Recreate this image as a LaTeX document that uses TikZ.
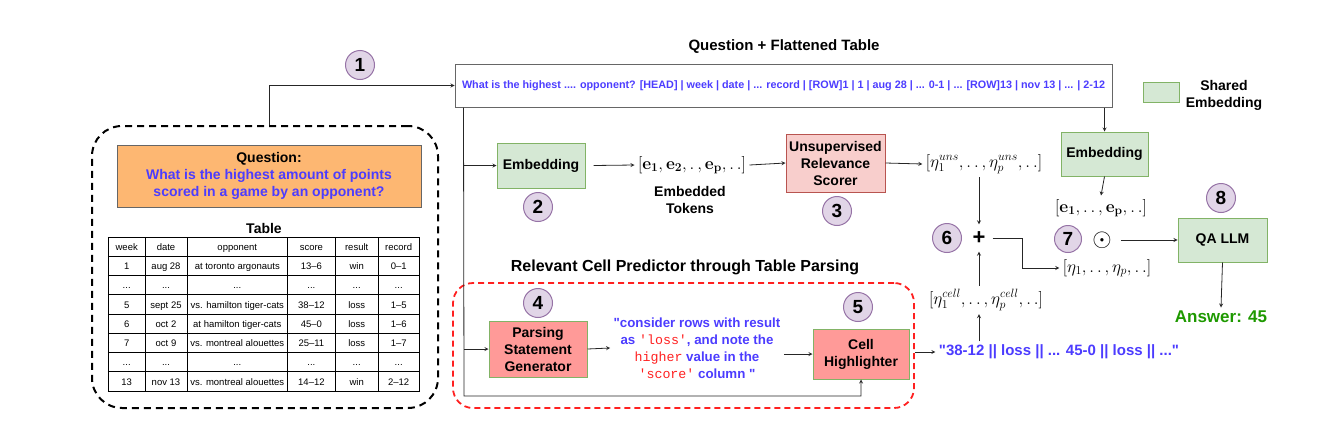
\documentclass[tikz,border=0pt]{standalone}
\usepackage[no-math]{fontspec}
\setmainfont{Liberation Sans}[Ligatures=TeXOff]
\setmonofont{Liberation Mono}
\usepackage{amsmath}
\usepackage{array}
\usepackage{tikz}

\definecolor{embfill}{HTML}{D5E8D4}
\definecolor{embedge}{HTML}{82B366}
\definecolor{scorefill}{HTML}{F8CECC}
\definecolor{scoreedge}{HTML}{B85450}
\definecolor{cellfill}{HTML}{FF9A98}
\definecolor{numfill}{HTML}{E1D5E7}
\definecolor{numedge}{HTML}{9673A6}
\definecolor{qfill}{HTML}{FDB772}
\definecolor{qblue}{HTML}{4C3CFF}
\definecolor{mred}{HTML}{FF2020}
\definecolor{ansgreen}{HTML}{1E9900}

\newcolumntype{C}[1]{>{\centering\arraybackslash}p{#1}}
\newcommand{\mono}[1]{\textcolor{mred}{\normalfont\ttfamily #1}}

\begin{document}
\begin{tikzpicture}
[x=1pt,y=-1pt,>=stealth,
 box/.style = {draw, line width=1pt, align=center, inner sep=0pt, font=\bfseries\fontsize{14}{17}\selectfont},
 embbox/.style = {box, draw=embedge, fill=embfill},
 scorebox/.style = {box, draw=scoreedge, fill=scorefill},
 cellbox/.style = {box, draw=embedge, fill=cellfill},
 num/.style = {circle, draw=numedge, fill=numfill, line width=1pt, minimum size=29pt, inner sep=0pt, font=\bfseries\fontsize{19}{19}\selectfont},
 txt/.style = {align=center, font=\bfseries\fontsize{14}{17}\selectfont},
 vec/.style = {font=\fontsize{16.5}{19}\selectfont},
 link/.style = {->, line width=0.8pt, draw=black!85},
]

\useasboundingbox (0,0) rectangle (1326,434);

% question and table
\node (inbox) at (265,267)[draw, line width=2pt, dash pattern=on 7pt off 5pt, rounded corners=30pt, minimum width=346pt, minimum height=282pt] {};
\node (question) at (269,176)[box, draw=black!60, fill=qfill, minimum width=304pt, minimum height=62pt] {Question:\\\color{qblue}What is the highest amount of points\\\color{qblue}scored in a game by an opponent?};
\node (tbltitle) at (264,228)[txt] {Table};
\node (tbl) at (263.7,314)[inner sep=0pt, font=\fontsize{9.5}{11.4}\selectfont] {%
\setlength{\tabcolsep}{2pt}\setlength{\arrayrulewidth}{0.8pt}\renewcommand{\arraystretch}{1.62}%
\begin{tabular}{|C{32pt}|C{37pt}|C{96pt}|C{42.6pt}|C{38.4pt}|C{36pt}|}
\hline
week & date & opponent & score & result & record \\ \hline
1 & aug 28 & at toronto argonauts & 13–6 & win & 0–1 \\ \hline
... & ... & ... & ... & ... & ... \\ \hline
5 & sept 25 & vs. hamilton tiger-cats & 38–12 & loss & 1–5 \\ \hline
6 & oct 2 & at hamilton tiger-cats & 45–0 & loss & 1–6 \\ \hline
7 & oct 9 & vs. montreal alouettes & 25–11 & loss & 1–7 \\ \hline
... & ... & ... & ... & ... & ... \\ \hline
13 & nov 13 & vs. montreal alouettes & 14–12 & win & 2–12 \\ \hline
\end{tabular}};

% flattened input
\node (n1) at (360,65)[num] {1};
\node (flattitle) at (784,47)[txt, font=\bfseries\fontsize{15}{17}\selectfont] {Question + Flattened Table};
\node (flat) at (783.5,85.5)[box, draw=black!60, minimum width=657pt, minimum height=43pt, text=qblue, font=\bfseries\fontsize{10.8}{12}\selectfont] {What is the highest .... opponent? [HEAD] | week | date | ... record | [ROW]1 | 1 | aug 28 | ... 0-1 | ... [ROW]13 | nov 13 | ... | 2-12};
\draw[link] ([xshift=4pt]inbox.north) |- (flat.west);

% unsupervised branch
\node (emb1) at (541,165.5)[embbox, minimum width=88pt, minimum height=45pt] {Embedding};
\node (n2) at (538,207)[num] {2};
\node (etok) at (692,165)[vec] {$[\mathbf{e_1},\mathbf{e_2},.\,,\mathbf{e_p},.\,.]$};
\node (etoklbl) at (690,200)[txt] {Embedded\\Tokens};
\node (urs) at (835.5,163)[scorebox, minimum width=99pt, minimum height=58pt] {Unsupervised\\Relevance\\Scorer};
\node (n3) at (837,211)[num] {3};
\node (etauns) at (984,164)[vec] {$[\eta_1^{uns},.\,.\,,\eta_p^{uns},.\,.]$};

% table parsing branch
\node (rcp) at (683.5,345.5)[draw=mred, line width=1.8pt, dash pattern=on 6pt off 4pt, rounded corners=20pt, minimum width=461pt, minimum height=125pt] {};
\node (rcptitle) at (685,267)[txt, font=\bfseries\fontsize{16}{18}\selectfont] {Relevant Cell Predictor through Table Parsing};
\node (psg) at (538,349)[cellbox, minimum width=98pt, minimum height=56pt] {Parsing\\Statement\\Generator};
\node (n4) at (538,303)[num] {4};
\node (stmt) at (697,348)[txt, text=qblue, font=\bfseries\fontsize{13.3}{17}\selectfont] {"consider rows with result\\as \mono{'loss'}, and note the\\\mono{higher} value in the\\\mono{'score'} column "};
\node (cell) at (861,354)[cellbox, minimum width=96pt, minimum height=50pt] {Cell\\Highlighter};
\node (n5) at (858,307)[num] {5};
\node (ans38) at (1059,352)[txt, text=qblue, font=\bfseries\fontsize{15}{18}\selectfont] {"38-12 || loss || ... 45-0 || loss || ..."};
\node (etacell) at (986,300)[vec] {$[\eta_1^{cell},.\,.\,,\eta_p^{cell},.\,.]$};

% combination
\node (plus) at (979,238)[inner sep=7pt, font=\bfseries\fontsize{22}{22}\selectfont] {+};
\node (n6) at (947,238)[num] {6};
\node (eta) at (1107,268)[vec] {$[\eta_1,.\,.\,,\eta_p,.\,.]$};
\node (emb2) at (1104.5,154)[embbox, minimum width=87pt, minimum height=44pt] {Embedding};
\node (evec) at (1101,208)[vec] {$[\mathbf{e_1},.\,.\,,\mathbf{e_p},.\,.]$};
\node (n7) at (1068,239)[num, minimum size=27pt] {7};
\node (odot) at (1102,240)[inner sep=1pt, font=\fontsize{30}{30}\selectfont] {$\odot$};
\node (qa) at (1222.5,240)[embbox, minimum width=89pt, minimum height=44pt] {QA LLM};
\node (n8) at (1221,198)[num] {8};
\node (answer) at (1221,317)[txt, text=ansgreen, font=\bfseries\fontsize{17}{20}\selectfont] {Answer: 45};
\node (legend) at (1161,92)[embbox, minimum width=36pt, minimum height=20pt] {};
\node (legendlbl) at (1224,95)[txt] {Shared\\Embedding};

% connectors
\coordinate (tap) at (464,396);
\draw[link] ([xshift=9pt]flat.south west) -- (tap) -| (cell.south);
\draw[link] (tap |- emb1.west) -- (emb1.west);
\draw[link] (tap |- psg.west) -- (psg.west);
\draw[link] ([xshift=8pt]emb1.east) -- (etok.west);
\draw[link] (etok.east) -- (urs.west);
\draw[link] (urs.east) -- (etauns.west);
\draw[link] (psg.east) -- (stmt.west);
\draw[link] (stmt.east |- cell.west) -- (cell.west);
\draw[link] (rcp.east |- ans38.west) -- (ans38.west);
\draw[link] (ans38.north -| plus.south) -- (etacell.south -| plus.south);
\draw[link] (etacell.north -| plus.south) -- (plus.south);
\draw[link] (etauns.south -| plus.north) -- (plus.north);
\draw[link] (plus.east) -- ++(30,0) |- (eta.west);
\draw[link] (flat.south -| emb2.north) -- (emb2.north);
\draw[link] (emb2.south) -- (evec.north);
\draw[link] ([xshift=8pt]odot.east) -- (qa.west);
\draw[link] (qa.south) -- (answer.north);

\end{tikzpicture}
\end{document}
